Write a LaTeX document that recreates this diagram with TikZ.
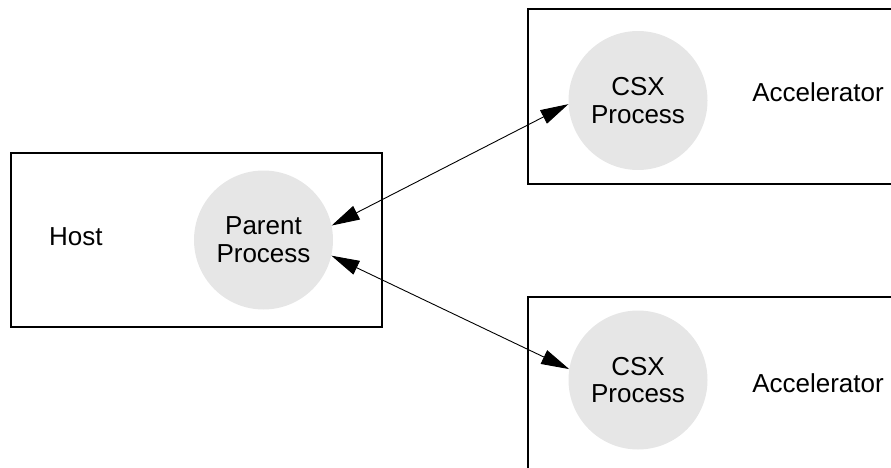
\documentclass[tikz,border=0pt]{standalone}
\usepackage{fontspec}
\setmainfont{Liberation Sans}
\usetikzlibrary{arrows.meta}
\definecolor{procgray}{RGB}{230,230,230}
\begin{document}
\begin{tikzpicture}[x=1pt,y=-1pt,
  boxline/.style={draw=black,line width=1.8pt},
  proc/.style={circle,fill=procgray,minimum size=139pt,inner sep=0pt,align=center,
    font=\fontsize{26}{27.7}\selectfont},
  lbl/.style={inner sep=0pt,font=\fontsize{26}{27.7}\selectfont},
  link/.style={line width=0.9pt,{Triangle[length=28pt,width=15pt]}-{Triangle[length=28pt,width=15pt]}}
]
\useasboundingbox (0,0) rectangle (891,468);
\clip (0,0) rectangle (891,468);
% boxes
\draw[boxline] (11,153.3) rectangle (382.3,326.7);
\draw[boxline] (900,9.3) -- (527.7,9.3) -- (527.7,184.3) -- (900,184.3);
\draw[boxline] (900,296.7) -- (528.3,296.7) -- (528.3,480);
% processes
\node[proc] (parent) at (263.5,240) {Parent\\Process};
\node[proc] (csxa) at (638,100.5) {CSX\\Process};
\node[proc] (csxb) at (638,380) {CSX\\Process};
% labels
\node[lbl] (host) at (75.8,236.5) {Host};
\node[lbl] (acca) at (818,92.5) {Accelerator};
\node[lbl] (accb) at (818,383.5) {Accelerator};
% connectors
\draw[link] (parent.12) -- (csxa.183);
\draw[link] (parent.-13) -- (csxb.171);
\end{tikzpicture}
\end{document}
